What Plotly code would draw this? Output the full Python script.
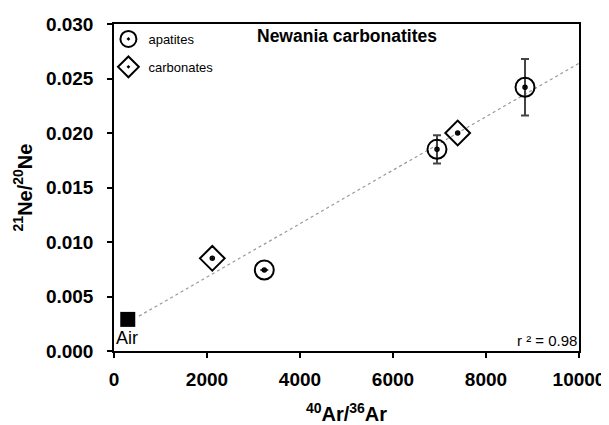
import plotly.graph_objects as go

# Data
apatite_x = [3232, 6946, 8839]
apatite_y = [0.00743, 0.0185, 0.0242]
apatite_err = [0.0, 0.0013, 0.0026]

carbonate_x = [2114, 7391]
carbonate_y = [0.0085, 0.0200]

air_x = [296]
air_y = [0.0029]

trend_x = [538, 10000]
trend_y = [0.0032, 0.0264]

x_ticks = [0, 2000, 4000, 6000, 8000, 10000]
y_ticks = [0.000, 0.005, 0.010, 0.015, 0.020, 0.025, 0.030]

FONT = "Arial, Liberation Sans, sans-serif"

fig = go.Figure()

fig.add_trace(go.Scatter(
    x=trend_x, y=trend_y, mode="lines",
    line=dict(color="#999999", width=1.2, dash="dot"),
    showlegend=False, hoverinfo="skip"))

fig.add_trace(go.Scatter(
    x=air_x, y=air_y, mode="markers",
    marker=dict(symbol="square", size=15, color="black"),
    showlegend=False))

fig.add_trace(go.Scatter(
    x=apatite_x, y=apatite_y, mode="markers", name="apatites",
    legendgroup="a",
    marker=dict(symbol="circle-open-dot", size=19, color="black",
                line=dict(width=2, color="black")),
    error_y=dict(type="data", array=apatite_err, visible=True,
                 color="#444444", thickness=2, width=4)))

fig.add_trace(go.Scatter(
    x=carbonate_x, y=carbonate_y, mode="markers", name="carbonates",
    legendgroup="c",
    marker=dict(symbol="diamond-open-dot", size=19, color="black",
                line=dict(width=2, color="black"))))

# small inner rings
fig.add_trace(go.Scatter(
    x=apatite_x + carbonate_x, y=apatite_y + carbonate_y, mode="markers",
    marker=dict(symbol="circle-open", size=4, color="black",
                line=dict(width=1.5, color="black")),
    showlegend=False, hoverinfo="skip"))

fig.add_annotation(x=air_x[0], y=air_y[0], text="Air", showarrow=False,
                   xref="x", yref="y", yshift=-19, xshift=-1,
                   font=dict(family=FONT, size=18, color="black"))
fig.add_annotation(x=1, y=0, xref="paper", yref="paper", text="r ² = 0.98",
                   showarrow=False, xanchor="right", yanchor="bottom",
                   font=dict(family=FONT, size=15, color="black"))
fig.add_annotation(x=0.5, y=1, xref="paper", yref="paper",
                   text="<b>Newania carbonatites</b>", showarrow=False,
                   xanchor="center", yanchor="top", yshift=0,
                   font=dict(family=FONT, size=17.5, color="black"))

axis_common = dict(showgrid=False, zeroline=False, showline=True, mirror=True,
                   linecolor="black", linewidth=1.5, ticks="outside",
                   ticklen=5, tickwidth=1.5, tickcolor="black",
                   automargin=False,
                   tickfont=dict(size=19, family=FONT, weight="bold"))

# page has an 8px body margin, so the figure is sized to fit the window
fig.update_layout(
    width=601, height=417,
    margin=dict(l=106, r=30, t=16, b=74),
    paper_bgcolor="white", plot_bgcolor="white",
    font=dict(family=FONT, color="black"),
    legend=dict(x=-0.012, y=1.0, xanchor="left", yanchor="top",
                bgcolor="rgba(0,0,0,0)", font=dict(size=13),
                tracegroupgap=8, traceorder="grouped"),
    xaxis=dict(range=[0, 10000], tickvals=x_ticks, tickformat="d",
               ticklabelstandoff=5,
               title=dict(text="<b><sup>40</sup>Ar/<sup>36</sup>Ar</b>",
                          font=dict(size=20, family=FONT), standoff=28),
               **axis_common),
    yaxis=dict(range=[0, 0.030], tickvals=y_ticks, tickformat=".3f",
               ticklabelstandoff=10,
               title=dict(text="<b><sup>21</sup>Ne/<sup>20</sup>Ne</b>",
                          font=dict(size=20, family=FONT), standoff=8),
               **axis_common),
)

fig.write_html("out.html")
